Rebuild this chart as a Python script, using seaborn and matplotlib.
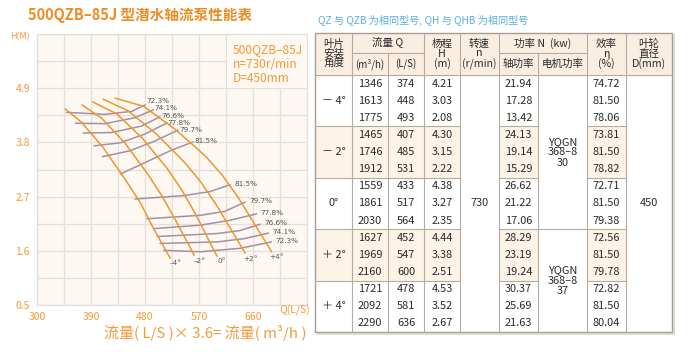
import numpy as np
import pandas as pd
import matplotlib
matplotlib.use("Agg")
import matplotlib.pyplot as plt
from matplotlib.patches import Rectangle
import seaborn as sns

# ---------------- chart data ----------------
angle_names = ["–4°", "–2°", "0°", "+2°", "+4°"]
q_m4 = [347, 374, 410, 448, 472, 493, 522]
h_m4 = [4.48, 4.21, 3.70, 3.03, 2.58, 2.08, 1.45]
q_m2 = [375, 407, 447, 485, 509, 531, 562]
h_m2 = [4.56, 4.30, 3.78, 3.15, 2.70, 2.22, 1.51]
q_0 = [393, 433, 476, 517, 541, 564, 600]
h_0 = [4.62, 4.38, 3.88, 3.27, 2.84, 2.35, 1.49]
q_p2 = [410, 452, 500, 547, 574, 600, 647]
h_p2 = [4.68, 4.44, 3.96, 3.38, 2.98, 2.51, 1.55]
q_p4 = [430, 478, 530, 581, 609, 636, 691]
h_p4 = [4.70, 4.53, 4.07, 3.52, 3.13, 2.67, 1.58]

# iso-efficiency lines, upper (high head) branch
eff_up_labels = ["72.3%", "74.1%", "76.6%", "77.8%", "79.7%", "81.5%"]
eff_up_q = [[349, 413, 458, 480], [364, 413, 463, 494], [377, 424, 474, 505],
            [395, 438, 480, 516], [409, 455, 497, 535], [439, 480, 522, 560]]
eff_up_h = [[4.41, 4.37, 4.43, 4.56], [4.19, 4.18, 4.30, 4.46], [3.99, 4.00, 4.13, 4.32],
            [3.73, 3.79, 3.97, 4.19], [3.51, 3.63, 3.83, 4.05], [3.16, 3.39, 3.63, 3.81]]
# iso-efficiency lines, lower (low head) branch
eff_lo_labels = ["81.5%", "79.7%", "77.8%", "76.6%", "74.1%", "72.3%"]
eff_lo_q = [[463, 544, 588, 622], [483, 572, 613, 647], [494, 572, 622, 666],
            [500, 600, 638, 672], [505, 600, 647, 686], [511, 572, 638, 691]]
eff_lo_h = [[2.65, 2.72, 2.80, 2.94], [2.25, 2.32, 2.40, 2.59], [2.05, 2.12, 2.22, 2.35],
            [1.89, 1.95, 2.01, 2.14], [1.75, 1.78, 1.85, 1.96], [1.61, 1.58, 1.65, 1.78]]

x_tick_vals = [300, 390, 480, 570, 660]
y_tick_vals = [0.5, 1.6, 2.7, 3.8, 4.9]

# ---------------- table data ----------------
tbl_angles = ["－ 4°", "－ 2°", "0°", "＋ 2°", "＋ 4°"]
tbl_q_m3h = ["1346", "1613", "1775", "1465", "1746", "1912", "1559", "1861", "2030",
             "1627", "1969", "2160", "1721", "2092", "2290"]
tbl_q_ls = ["374", "448", "493", "407", "485", "531", "433", "517", "564",
            "452", "547", "600", "478", "581", "636"]
tbl_h = ["4.21", "3.03", "2.08", "4.30", "3.15", "2.22", "4.38", "3.27", "2.35",
         "4.44", "3.38", "2.51", "4.53", "3.52", "2.67"]
tbl_shaft = ["21.94", "17.28", "13.42", "24.13", "19.14", "15.29", "26.62", "21.22", "17.06",
             "28.29", "23.19", "19.24", "30.37", "25.69", "21.63"]
tbl_eff = ["74.72", "81.50", "78.06", "73.81", "81.50", "78.82", "72.71", "81.50", "79.38",
           "72.56", "81.50", "79.78", "72.82", "81.50", "80.04"]
tbl_speed = "730"
tbl_motor = ["YQGN\n368–8\n30", "YQGN\n368–8\n37"]
tbl_diam = "450"

# ---------------- style ----------------
sns.set_style("white")
plt.rcParams["font.family"] = ["Noto Sans CJK SC", "DejaVu Sans"]
ORANGE = "#f0952c"
ORANGE_T = "#f39a38"
MAUVE = "#a68ea8"
BG = "#fdf9f2"
GRID = "#e4dfd8"

fig = plt.figure(figsize=(6.9, 3.52), dpi=100)
W, Hh = 690, 352
L, R, T, B = 37, 307, 34, 305
ax = fig.add_axes([L / W, 1 - B / Hh, (R - L) / W, (B - T) / Hh])
ax.set_facecolor(BG)

# H-Q curves
curves = [(q_m4, h_m4), (q_m2, h_m2), (q_0, h_0), (q_p2, h_p2), (q_p4, h_p4)]
df_c = pd.concat([pd.DataFrame({"Q": q, "H": h, "angle": a})
                  for a, (q, h) in zip(angle_names, curves)], ignore_index=True)
sns.lineplot(data=df_c, x="Q", y="H", units="angle", estimator=None, sort=False,
             color=ORANGE, lw=1.1, ax=ax, zorder=3)

# efficiency lines
rows = []
for i, lab in enumerate(eff_up_labels):
    rows.append(pd.DataFrame({"Q": eff_up_q[i], "H": eff_up_h[i], "line": "u" + lab}))
for i, lab in enumerate(eff_lo_labels):
    rows.append(pd.DataFrame({"Q": eff_lo_q[i], "H": eff_lo_h[i], "line": "l" + lab}))
df_e = pd.concat(rows, ignore_index=True)
sns.lineplot(data=df_e, x="Q", y="H", units="line", estimator=None, sort=False,
             color=MAUVE, lw=1.1, ax=ax, zorder=2)

LBL = 5.2
SMALL_FONT = ["DejaVu Sans"]
up_dy = [2.6, 1.2, 0.6, 0.0, 0.4, 0.6]
for i, lab in enumerate(eff_up_labels):
    ax.annotate(lab, (eff_up_q[i][-1], eff_up_h[i][-1]), xytext=(0.8, up_dy[i]),
                textcoords="offset points", fontsize=LBL, color="#555555",
                family=SMALL_FONT, ha="left", va="center", zorder=5)
for i, lab in enumerate(eff_lo_labels):
    ax.annotate(lab, (eff_lo_q[i][-1], eff_lo_h[i][-1]), xytext=(3, 0.8),
                textcoords="offset points", fontsize=LBL, color="#555555",
                family=SMALL_FONT, ha="left", va="center", zorder=5)
for a, (q, h) in zip(angle_names, curves):
    ax.annotate(a, (q[-1], h[-1]), xytext=(3.6, -3.8), textcoords="offset points",
                fontsize=LBL, color="#555555", family=SMALL_FONT,
                ha="center", va="center", zorder=5)

ax.set_xlim(300, 750)
ax.set_ylim(0.5, 6.0)
xt = np.arange(300, 751, 45)
ax.set_xticks(xt)
ax.set_xticklabels([str(v) if v in x_tick_vals else "" for v in xt])
yt = np.round(np.arange(0.5, 6.01, 0.55), 2)
ax.set_yticks(yt)
ax.set_yticklabels([f"{v:.1f}" if round(v, 2) in y_tick_vals else "" for v in yt])
ax.tick_params(length=0, labelsize=7.5, labelcolor=ORANGE_T)
ax.tick_params(axis="x", pad=5)
ax.tick_params(axis="y", pad=5)
ax.grid(True, color=GRID, lw=0.9)
ax.set_axisbelow(True)
for s in ax.spines.values():
    s.set_color(GRID)
    s.set_linewidth(0.9)
ax.set_xlabel("")
ax.set_ylabel("")
ax.text(730, 0.5, "Q(L/S)", transform=ax.transData, fontsize=7.5, color=ORANGE_T,
        ha="center", va="top")

# info box top-right of plot
ax.add_patch(Rectangle((617, 4.9), 133, 1.1, facecolor=BG, edgecolor="none", zorder=1))
for txt, hv in zip(["500QZB–85J", "n=730r/min", "D=450mm"], [5.68, 5.39, 5.10]):
    ax.text(626, hv, txt, fontsize=8.6, color=ORANGE_T, ha="left", va="center", zorder=4)

# ---------------- overlay axes in pixel units for texts and table ----------------
ov = fig.add_axes([0, 0, 1, 1], facecolor="none")
ov.set_xlim(0, W)
ov.set_ylim(Hh, 0)
ov.axis("off")

ov.text(28, 15, "500QZB–85J 型潜水轴流泵性能表", fontsize=10.5, fontweight="bold",
        color="#ee8b22", ha="left", va="center")
ov.text(10, 37, "H(M)", fontsize=6.5, color=ORANGE_T, ha="left", va="center")
ov.text(205, 333, "流量( L/S )× 3.6= 流量( m³/h )", fontsize=10.8, color=ORANGE_T,
        ha="center", va="center")
ov.text(318, 20, "QZ 与 QZB 为相同型号, QH 与 QHB 为相同型号", fontsize=7.3,
        color="#5aaee0", ha="left", va="center")

# table geometry
cx = [315, 352, 388, 424, 460, 499, 538, 587, 626, 672]
ty, tm, tb, tbot = 33, 53, 75, 332
ry = np.linspace(tb, tbot, 16)
LC = "#b4aca2"
HEAD_BG = "#f9eee0"
ALT_BG = "#fdf3e6"
TXT = "#2b2b2b"

ov.add_patch(Rectangle((cx[0], ty), cx[-1] - cx[0], tb - ty, facecolor=HEAD_BG,
                       edgecolor="none"))
ov.add_patch(Rectangle((cx[0], tb), cx[-1] - cx[0], tbot - tb, facecolor="white",
                       edgecolor="none"))
for g in (1, 3):
    y0, y1 = ry[3 * g], ry[3 * g + 3]
    for c0, c1 in [(0, 4), (5, 6), (7, 8)]:
        ov.add_patch(Rectangle((cx[c0], y0), cx[c1] - cx[c0], y1 - y0,
                               facecolor=ALT_BG, edgecolor="none"))

def hl(y, x0, x1, lw=0.8):
    ov.plot([x0, x1], [y, y], color=LC, lw=lw, solid_capstyle="butt")

def vl(x, y0, y1, lw=0.8):
    ov.plot([x, x], [y0, y1], color=LC, lw=lw, solid_capstyle="butt")

# header lines
for x in [352, 424, 460, 499, 587, 626]:
    vl(x, ty, tb)
for x in [388, 538]:
    vl(x, tm, tb)
hl(tm, 352, 424)
hl(tm, 499, 587)
hl(tb, cx[0], cx[-1])
# body lines
for x in cx[1:-1]:
    vl(x, tb, tbot)
for g in (1, 2, 3, 4):
    y = ry[3 * g]
    hl(y, cx[0], cx[4])
    hl(y, cx[5], cx[6])
    hl(y, cx[7], cx[8])
hl(ry[9], cx[6], cx[7])
# outer border with light shadow
ov.plot([cx[0] + 1.5, cx[-1] + 1.5, cx[-1] + 1.5], [tbot + 1.5, tbot + 1.5, ty + 1.5],
        color="#d8d3cc", lw=1.2)
ov.add_patch(Rectangle((cx[0], ty), cx[-1] - cx[0], tbot - ty, facecolor="none",
                       edgecolor="#a69e94", lw=1.0))

def mid(i, j):
    return (cx[i] + cx[j]) / 2

hs = 7.6
ov.text(mid(0, 1), (ty + tb) / 2, "叶片\n安装\n角度", fontsize=hs, color=TXT,
        ha="center", va="center", linespacing=0.98)
ov.text(mid(1, 3), (ty + tm) / 2, "流量 Q", fontsize=hs, color=TXT, ha="center", va="center")
ov.text(mid(1, 2), (tm + tb) / 2, "(m³/h)", fontsize=hs - 0.6, color=TXT, ha="center", va="center")
ov.text(mid(2, 3), (tm + tb) / 2, "(L/S)", fontsize=hs - 0.6, color=TXT, ha="center", va="center")
ov.text(mid(3, 4), (ty + tb) / 2, "杨程\nH\n(m)", fontsize=hs, color=TXT,
        ha="center", va="center", linespacing=0.98)
ov.text(mid(4, 5), (ty + tb) / 2, "转速\nn\n(r/min)", fontsize=hs, color=TXT,
        ha="center", va="center", linespacing=0.98)
ov.text(mid(5, 7), (ty + tm) / 2, "功率 N  (kw)", fontsize=hs, color=TXT, ha="center", va="center")
ov.text(mid(5, 6), (tm + tb) / 2, "轴功率", fontsize=hs, color=TXT, ha="center", va="center")
ov.text(mid(6, 7), (tm + tb) / 2, "电机功率", fontsize=hs, color=TXT, ha="center", va="center")
ov.text(mid(7, 8), (ty + tb) / 2, "效率\nη\n(%)", fontsize=hs, color=TXT,
        ha="center", va="center", linespacing=0.98)
ov.text(mid(8, 9), (ty + tb) / 2, "叶轮\n直径\nD(mm)", fontsize=hs, color=TXT,
        ha="center", va="center", linespacing=0.98)

ds = 7.9
for r in range(15):
    yc = (ry[r] + ry[r + 1]) / 2
    for j, arr in [(1, tbl_q_m3h), (2, tbl_q_ls), (3, tbl_h), (5, tbl_shaft), (7, tbl_eff)]:
        ov.text(mid(j, j + 1), yc, arr[r], fontsize=ds, color=TXT, ha="center", va="center")
for g, a in enumerate(tbl_angles):
    ov.text(mid(0, 1), (ry[3 * g] + ry[3 * g + 3]) / 2, a, fontsize=ds, color=TXT,
            ha="center", va="center")
ov.text(mid(4, 5), (ry[6] + ry[9]) / 2, tbl_speed, fontsize=ds, color=TXT, ha="center", va="center")
ov.text(mid(8, 9), (ry[6] + ry[9]) / 2, tbl_diam, fontsize=ds, color=TXT, ha="center", va="center")
ov.text(mid(6, 7), (ry[3] + ry[6]) / 2, tbl_motor[0], fontsize=ds, color=TXT,
        ha="center", va="center", linespacing=1.05)
ov.text(mid(6, 7), (ry[9] + ry[15]) / 2, tbl_motor[1], fontsize=ds, color=TXT,
        ha="center", va="center", linespacing=1.05)

fig.savefig("out.png", dpi=100, facecolor="white")
